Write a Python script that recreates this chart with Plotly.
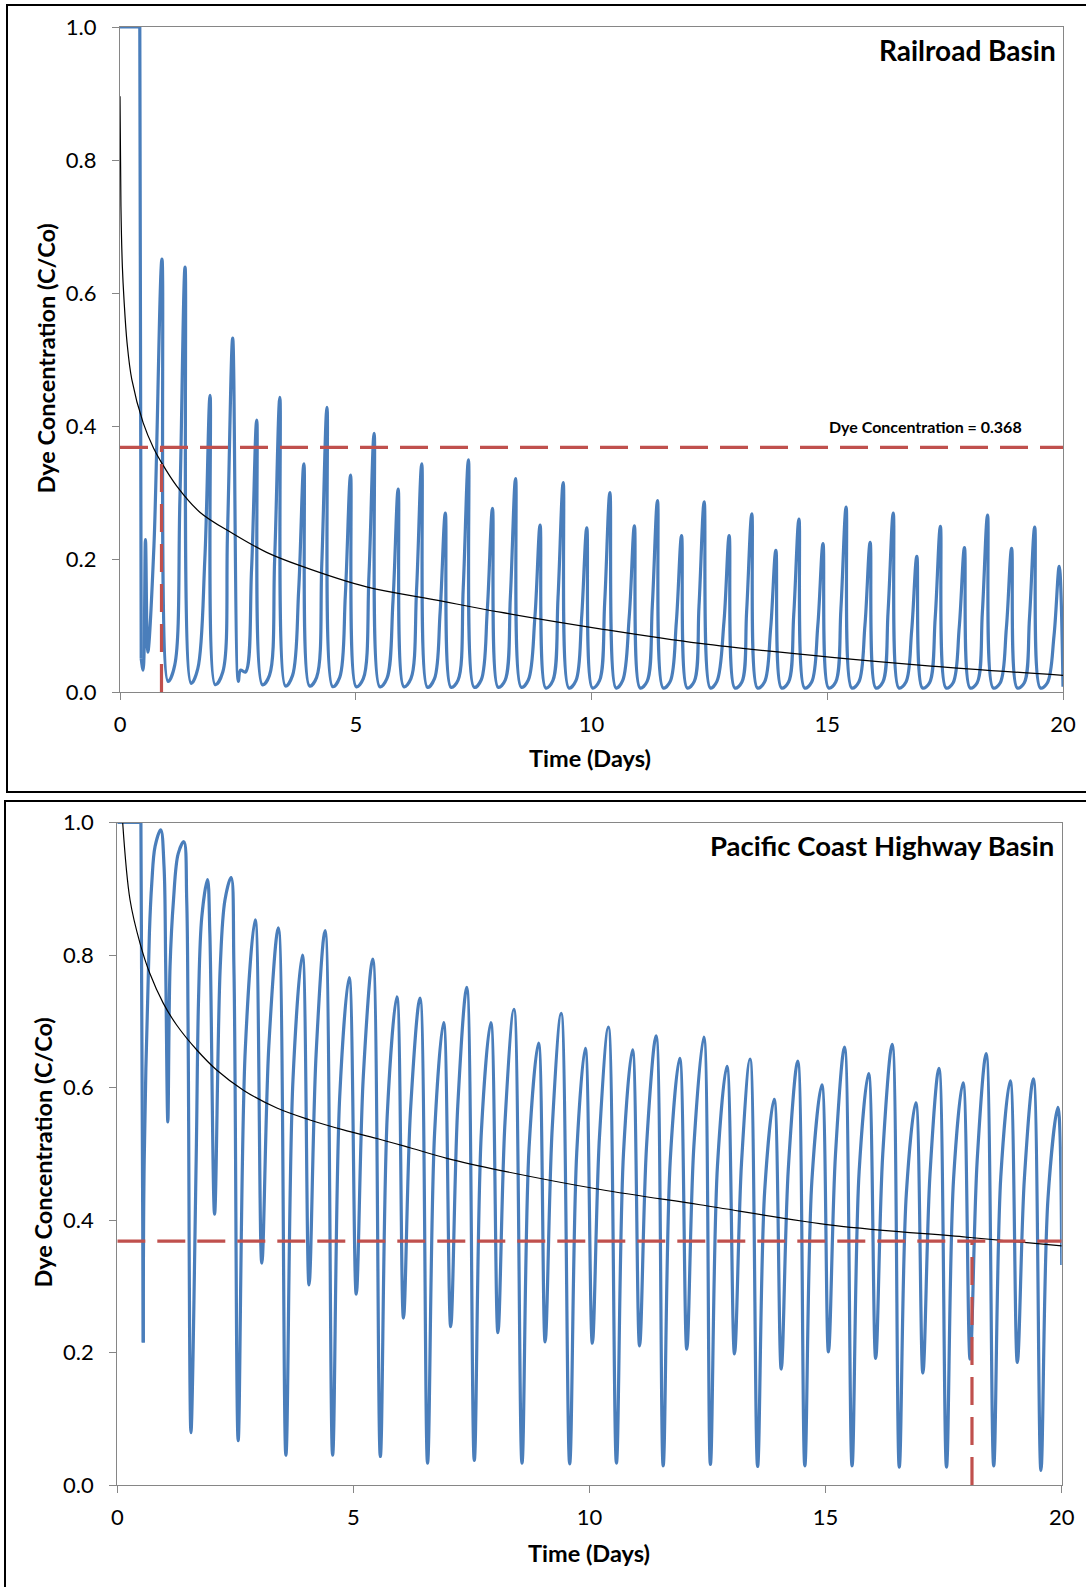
import plotly.graph_objects as go

W, H = 1086, 1587
FONT = "Lato"

# ---------------- shared ----------------
THRESHOLD = 0.368
X_TICKS = [0, 5, 10, 15, 20]
Y_TICKS = [0.0, 0.2, 0.4, 0.6, 0.8, 1.0]
X_TITLE = "Time (Days)"
Y_TITLE = "Dye Concentration (C/Co)"

# ---------------- Railroad Basin (top) ----------------
RR_TITLE = "Railroad Basin"
RR_LABEL = "Dye Concentration = 0.368"
RR_CROSS_T = 0.88

RR_START_T = [0.0, 0.42, 0.45]
RR_START_V = [1.0, 1.0, 0.05]
RR_EARLY_T = [0.45, 0.49, 0.54, 0.59, 0.72]
RR_EARLY_V = [0.05, 0.033, 0.229, 0.06, 0.22]
RR_PEAK_T = [0.89, 1.38, 1.91, 2.39, 2.90, 3.39, 3.90, 4.39, 4.89, 5.39, 5.90, 6.40, 6.90,
             7.39, 7.90, 8.39, 8.91, 9.40, 9.90, 10.39, 10.91, 11.40, 11.91, 12.39, 12.92,
             13.40, 13.91, 14.40, 14.91, 15.40, 15.91, 16.40, 16.90, 17.40, 17.91, 18.40,
             18.91, 19.40, 19.92]
RR_PEAK_V = [0.651, 0.639, 0.446, 0.532, 0.409, 0.443, 0.343, 0.428, 0.326, 0.389, 0.305,
             0.343, 0.269, 0.349, 0.276, 0.321, 0.251, 0.315, 0.247, 0.300, 0.250, 0.288,
             0.235, 0.286, 0.235, 0.268, 0.213, 0.260, 0.223, 0.278, 0.225, 0.269, 0.204,
             0.249, 0.217, 0.266, 0.216, 0.248, 0.189]
RR_TROUGH_T = [1.02, 1.51, 2.02, 2.51, 3.02, 3.51, 4.02, 4.51, 5.01, 5.51, 6.02, 6.52, 7.02,
               7.51, 8.02, 8.51, 9.03, 9.52, 10.02, 10.52, 11.03, 11.52, 12.03, 12.52, 13.04,
               13.52, 14.03, 14.52, 15.03, 15.52, 16.03, 16.52, 17.02, 17.52, 18.03, 18.52,
               19.03, 19.52]
RR_TROUGH_V = [0.016, 0.013, 0.011, 0.016, 0.011, 0.009, 0.009, 0.008, 0.008, 0.008, 0.008,
               0.007, 0.007, 0.007, 0.007, 0.007, 0.006, 0.006, 0.006, 0.006, 0.006, 0.006,
               0.006, 0.006, 0.006, 0.006, 0.006, 0.006, 0.006, 0.006, 0.006, 0.006, 0.006,
               0.006, 0.006, 0.006, 0.006, 0.006]
RR_FOOT_T = [1.16, 1.65, 2.18, 2.66, 3.17, 3.66, 4.17, 4.66, 5.16, 5.66, 6.17, 6.67, 7.17,
             7.66, 8.17, 8.66, 9.18, 9.67, 10.17, 10.66, 11.18, 11.67, 12.18, 12.66, 13.19,
             13.67, 14.18, 14.67, 15.18, 15.67, 16.18, 16.67, 17.17, 17.67, 18.18, 18.67,
             19.18, 19.67]
RR_FOOT_V = [0.04, 0.035, 0.03, 0.03, 0.025, 0.025, 0.022, 0.022, 0.02, 0.02, 0.02, 0.02,
             0.018, 0.018, 0.018, 0.018, 0.017, 0.017, 0.017, 0.017, 0.016, 0.016, 0.016,
             0.016, 0.015, 0.015, 0.015, 0.015, 0.015, 0.015, 0.015, 0.015, 0.014, 0.014,
             0.014, 0.014, 0.014, 0.014]
RR_RISE_T = [1.27, 1.80, 2.28, 2.79, 3.28, 3.79, 4.28, 4.78, 5.28, 5.79, 6.29, 6.79, 7.28,
             7.79, 8.28, 8.80, 9.29, 9.79, 10.28, 10.80, 11.29, 11.80, 12.28, 12.81, 13.29,
             13.80, 14.29, 14.80, 15.29, 15.80, 16.29, 16.79, 17.29, 17.80, 18.29, 18.80,
             19.29, 19.81]
RR_RISE_V = [0.288, 0.201, 0.239, 0.184, 0.199, 0.154, 0.193, 0.147, 0.175, 0.137, 0.154,
             0.121, 0.157, 0.124, 0.144, 0.113, 0.142, 0.111, 0.135, 0.113, 0.130, 0.106,
             0.129, 0.106, 0.121, 0.096, 0.117, 0.100, 0.125, 0.101, 0.121, 0.092, 0.112,
             0.098, 0.120, 0.097, 0.112, 0.085]
RR_BUMP_T = [2.555]
RR_BUMP_V = [0.033]
RR_END_T = [20.0]
RR_END_V = [0.008]
RR_DECAY_T = [0.0, 0.02, 0.05, 0.085, 0.15, 0.25, 0.49, 0.71, 0.88, 1.2, 1.70, 2.40, 3.11,
              3.82, 5.23, 6.65, 8.06, 10.18, 12.3, 15.1, 17.2, 20.0]
RR_DECAY_V = [0.896, 0.73, 0.64, 0.59, 0.525, 0.47, 0.405, 0.367, 0.345, 0.31, 0.27, 0.238,
              0.21, 0.19, 0.158, 0.139, 0.12, 0.095, 0.073, 0.052, 0.039, 0.025]

# ---------------- Pacific Coast Highway Basin (bottom) ----------------
PCH_TITLE = "Pacific Coast Highway Basin"
PCH_CROSS_T = 18.1

PCH_START_T = [0.0, 0.50, 0.55]
PCH_START_V = [1.0, 1.0, 0.215]
PCH_EARLY_T = [0.55, 0.57, 0.68, 0.73, 0.80, 0.99, 1.025, 1.117, 1.19, 1.29, 1.47, 1.50,
               1.67, 1.79, 1.96, 2.28, 2.47]
PCH_EARLY_V = [0.215, 0.49, 0.833, 0.908, 0.964, 0.933, 0.782, 0.782, 0.883, 0.953, 0.883,
               0.682, 0.49, 0.858, 0.833, 0.883, 0.78]
PCH_PEAK_T = [0.92, 1.41, 1.91, 2.41, 2.92, 3.41, 3.92, 4.40, 4.91, 5.41, 5.92, 6.41, 6.91,
              7.40, 7.91, 8.40, 8.92, 9.40, 9.91, 10.40, 10.91, 11.41, 11.91, 12.42, 12.91,
              13.40, 13.91, 14.41, 14.92, 15.40, 15.91, 16.41, 16.91, 17.40, 17.91, 18.40,
              18.91, 19.40, 19.92]
PCH_PEAK_V = [0.989, 0.971, 0.914, 0.917, 0.853, 0.841, 0.800, 0.837, 0.766, 0.794, 0.737,
              0.735, 0.698, 0.751, 0.698, 0.718, 0.667, 0.712, 0.659, 0.691, 0.657, 0.678,
              0.644, 0.676, 0.632, 0.643, 0.582, 0.640, 0.604, 0.661, 0.621, 0.665, 0.577,
              0.629, 0.607, 0.651, 0.610, 0.613, 0.570]
PCH_TROUGH_T = [1.07, 1.56, 2.06, 2.56, 3.06, 3.57, 4.06, 4.56, 5.06, 5.57, 6.06, 6.57, 7.06,
                7.56, 8.06, 8.57, 9.06, 9.58, 10.06, 10.57, 11.06, 11.56, 12.06, 12.56, 13.07,
                13.56, 14.06, 14.56, 15.06, 15.56, 16.06, 16.56, 17.06, 17.56, 18.06, 18.56,
                19.06, 19.56]
PCH_TROUGH_V = [0.548, 0.079, 0.409, 0.067, 0.335, 0.045, 0.302, 0.045, 0.288, 0.043, 0.252,
                0.033, 0.239, 0.037, 0.230, 0.033, 0.216, 0.032, 0.214, 0.033, 0.210, 0.029,
                0.205, 0.031, 0.198, 0.028, 0.175, 0.029, 0.201, 0.029, 0.191, 0.027, 0.169,
                0.027, 0.190, 0.029, 0.185, 0.022]
PCH_RISE_T = [1.72, 2.18, 2.71, 3.21, 3.72, 4.21, 4.71, 5.21, 5.72, 6.21, 6.72, 7.21,
              7.71, 8.21, 8.72, 9.21, 9.73, 10.21, 10.72, 11.21, 11.71, 12.21, 12.71, 13.22,
              13.71, 14.21, 14.71, 15.21, 15.71, 16.21, 16.71, 17.21, 17.71, 18.21, 18.71,
              19.21, 19.71]
PCH_RISE_V = [0.732, 0.782, 0.657, 0.664, 0.611, 0.650, 0.586, 0.617, 0.563, 0.566,
              0.532, 0.572, 0.533, 0.547, 0.509, 0.538, 0.502, 0.524, 0.501, 0.514, 0.490,
              0.511, 0.482, 0.487, 0.444, 0.477, 0.460, 0.500, 0.473, 0.499, 0.440, 0.468,
              0.462, 0.490, 0.465, 0.463, 0.433]
PCH_END_T = [20.0]
PCH_END_V = [0.332]
PCH_DECAY_T = [0.114, 0.27, 0.48, 0.69, 0.975, 1.26, 1.68, 2.11, 2.67, 3.38, 4.08, 4.79, 5.50,
               6.20, 6.98, 8.1, 10.23, 12.34, 15.17, 18.0, 20.0]
PCH_DECAY_V = [1.0, 0.883, 0.818, 0.772, 0.727, 0.694, 0.657, 0.626, 0.596, 0.569, 0.551,
               0.536, 0.523, 0.509, 0.493, 0.475, 0.446, 0.423, 0.392, 0.374, 0.361]

# ---------------- styles ----------------
BLUE = "#4A7EBB"
RED = "#C0504D"
AXIS_GREY = "#868686"


def merged(*groups):
    pts = []
    for ts, vs in groups:
        pts.extend(zip(ts, vs))
    pts.sort(key=lambda p: p[0])
    return [p[0] for p in pts], [p[1] for p in pts]


def px_x(px):
    return px / W


def px_y(py):
    return 1 - py / H


fig = go.Figure()


def add_panel(xref, yref, start, osc, decay, cross_t):
    fig.add_trace(go.Scatter(x=start[0], y=start[1], mode="lines", xaxis=xref, yaxis=yref,
                             line=dict(color=BLUE, width=3.2), hoverinfo="skip"))
    fig.add_trace(go.Scatter(x=osc[0], y=osc[1], mode="lines", xaxis=xref, yaxis=yref,
                             line=dict(color=BLUE, width=3.2, shape="spline", smoothing=1),
                             hoverinfo="skip"))
    fig.add_trace(go.Scatter(x=decay[0], y=decay[1], mode="lines", xaxis=xref, yaxis=yref,
                             line=dict(color="black", width=1.2, shape="spline", smoothing=1),
                             hoverinfo="skip"))
    fig.add_trace(go.Scatter(x=[0, 20], y=[THRESHOLD, THRESHOLD], mode="lines",
                             xaxis=xref, yaxis=yref,
                             line=dict(color=RED, width=3.2, dash="28px,12px"), hoverinfo="skip"))
    fig.add_trace(go.Scatter(x=[cross_t, cross_t], y=[0, THRESHOLD], mode="lines",
                             xaxis=xref, yaxis=yref,
                             line=dict(color=RED, width=3.2, dash="28px,12px"), hoverinfo="skip"))


rr_osc = merged((RR_EARLY_T, RR_EARLY_V), (RR_PEAK_T, RR_PEAK_V), (RR_TROUGH_T, RR_TROUGH_V),
                (RR_FOOT_T, RR_FOOT_V), (RR_RISE_T, RR_RISE_V), (RR_BUMP_T, RR_BUMP_V),
                (RR_END_T, RR_END_V))
add_panel("x", "y", (RR_START_T, RR_START_V), rr_osc, (RR_DECAY_T, RR_DECAY_V), RR_CROSS_T)

pch_osc = merged((PCH_EARLY_T, PCH_EARLY_V), (PCH_PEAK_T, PCH_PEAK_V),
                 (PCH_TROUGH_T, PCH_TROUGH_V), (PCH_RISE_T, PCH_RISE_V),
                 (PCH_END_T, PCH_END_V))
add_panel("x2", "y2", (PCH_START_T, PCH_START_V), pch_osc, (PCH_DECAY_T, PCH_DECAY_V),
          PCH_CROSS_T)


def xaxis_style(domain, anchor):
    return dict(domain=domain, anchor=anchor, range=[0, 20], tickvals=X_TICKS,
                automargin=False,
                showgrid=False, zeroline=False, showline=True, linecolor=AXIS_GREY,
                linewidth=1.3, mirror=True, ticks="outside", ticklen=7, tickwidth=1.3,
                tickcolor=AXIS_GREY, tickfont=dict(family=FONT, size=22, color="black"),
                ticklabelstandoff=5)


def yaxis_style(domain, anchor):
    return dict(domain=domain, anchor=anchor, range=[0, 1], tickvals=Y_TICKS,
                automargin=False,
                tickformat=".1f", showgrid=False, zeroline=False, showline=True,
                linecolor=AXIS_GREY, linewidth=1.3, mirror=True, ticks="outside", ticklen=7,
                tickwidth=1.3, tickcolor=AXIS_GREY,
                tickfont=dict(family=FONT, size=22, color="black"), ticklabelstandoff=11)


annotations = []


def text(x, y, s, size, anchor="center", angle=0):
    annotations.append(dict(x=px_x(x), y=px_y(y), xref="paper", yref="paper", text=s,
                            showarrow=False, xanchor=anchor, yanchor="middle", textangle=angle,
                            font=dict(family=FONT, size=size, color="black", weight="bold")))


text(1058, 50, RR_TITLE, 28, "right")
text(1024, 426, RR_LABEL, 16, "right")
text(590, 758, X_TITLE, 23.5)
text(45.5, 359, Y_TITLE, 23.5, angle=-90)
text(1056, 845, PCH_TITLE, 27.5, "right")
text(589, 1553, X_TITLE, 23.5)
text(42.5, 1153, Y_TITLE, 23.5, angle=-90)

shapes = [
    dict(type="rect", xref="paper", yref="paper", x0=px_x(7), x1=px_x(1092), y0=px_y(792),
         y1=px_y(5), line=dict(color="black", width=2), layer="below"),
    dict(type="rect", xref="paper", yref="paper", x0=px_x(5), x1=px_x(1092), y0=px_y(1600),
         y1=px_y(801), line=dict(color="black", width=2), layer="below"),
]

fig.update_layout(
    width=W, height=H, autosize=False,
    margin=dict(l=0, r=0, t=0, b=0, pad=0, autoexpand=False), showlegend=False,
    paper_bgcolor="white", plot_bgcolor="white",
    xaxis=xaxis_style([120 / W, 1063 / W], "y"),
    yaxis=yaxis_style([px_y(692), px_y(27)], "x"),
    xaxis2=xaxis_style([117.3 / W, 1061.7 / W], "y2"),
    yaxis2=yaxis_style([px_y(1485), px_y(822.5)], "x2"),
    annotations=annotations, shapes=shapes,
)

fig.write_html("out.html",
               post_script="document.body.style.margin='0px';"
                           "document.body.style.overflow='hidden';")
